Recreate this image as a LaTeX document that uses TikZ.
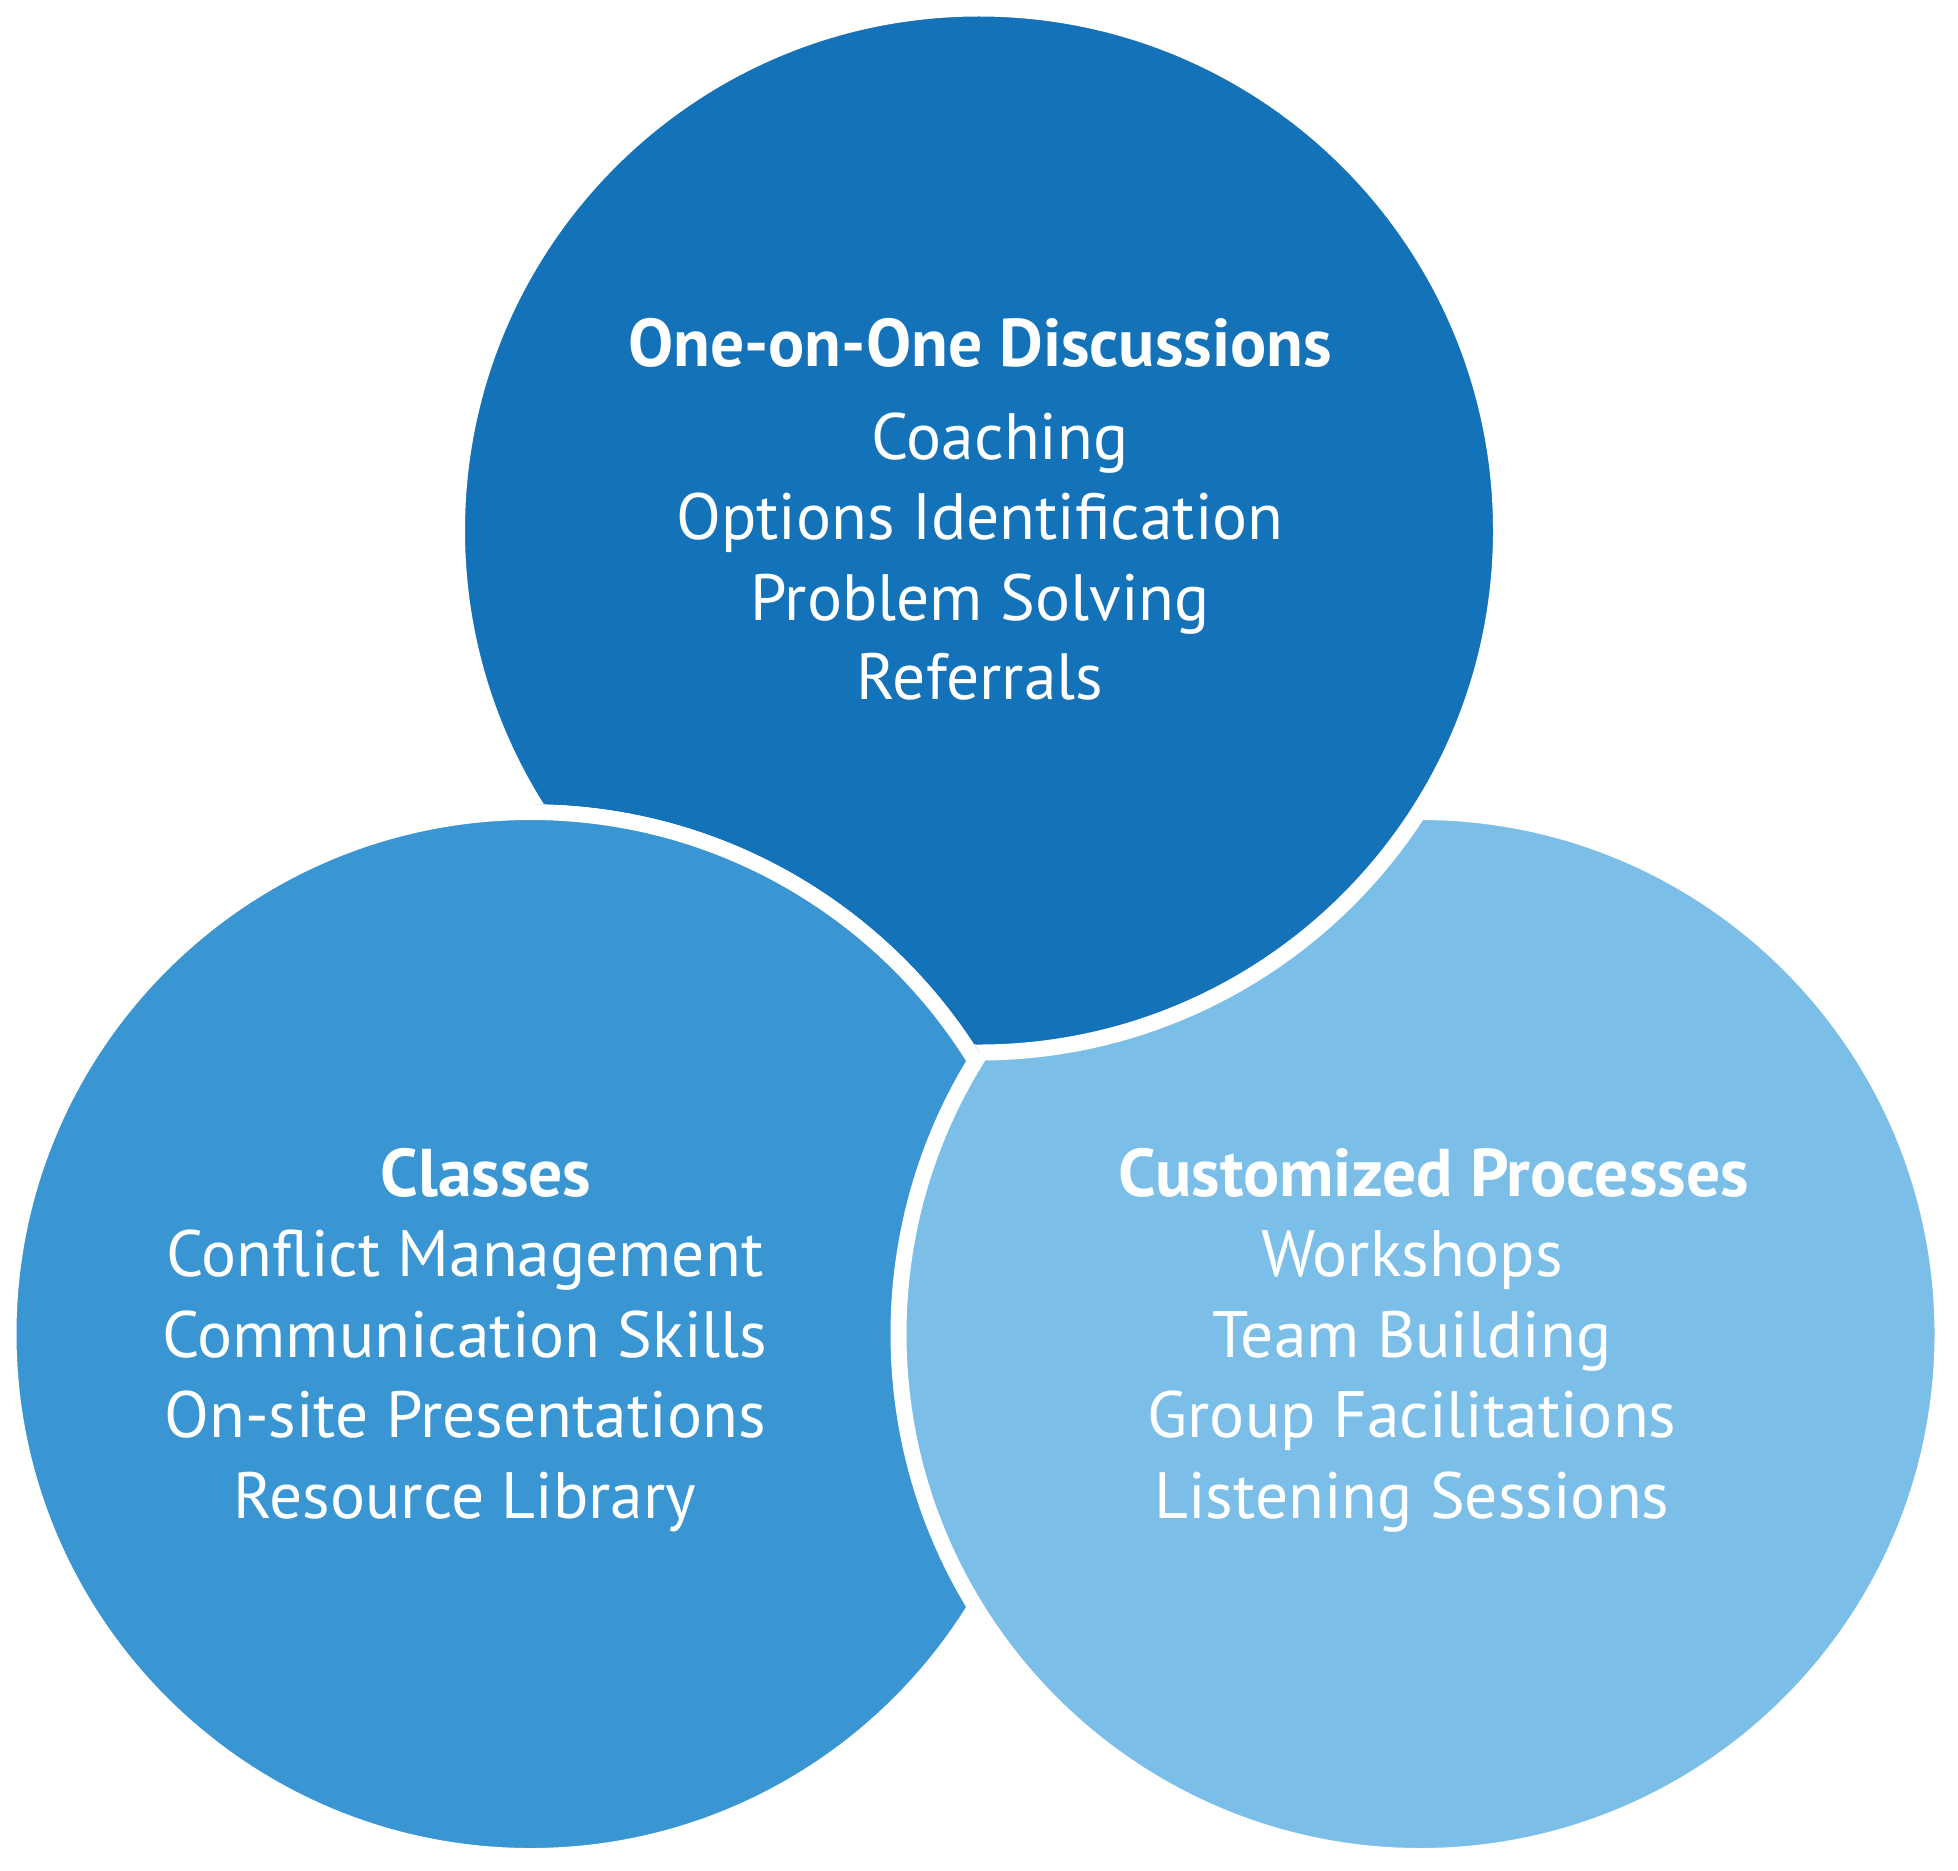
\documentclass[tikz,border=0pt]{standalone}
\usepackage{fontspec}
\setmainfont{PT Sans}
\definecolor{discBlue}{RGB}{19,114,184}
\definecolor{classBlue}{RGB}{58,150,210}
\definecolor{procBlue}{RGB}{123,191,233}

\begin{document}
\begin{tikzpicture}[x=1pt,y=-1pt,
  venn/.style={draw=white,line width=16pt},
  headtxt/.style={anchor=base,text=white,inner sep=0pt,font=\fontsize{67.5}{80}\selectfont\bfseries},
  itemtxt/.style={anchor=base,text=white,inner sep=0pt,font=\fontsize{65.5}{80}\selectfont}]
\useasboundingbox (0,0) rectangle (1958,1870);

%Shape: Circle top
\coordinate (cTop) at (979,530.5);
%Shape: Circle left
\coordinate (cLeft) at (530.5,1334);
%Shape: Circle right
\coordinate (cRight) at (1420.5,1334);

\draw [venn,fill=discBlue] (cTop) circle (522);
\draw [venn,fill=classBlue] (cLeft) circle (522);
\draw [venn,fill=procBlue] (cRight) circle (522);
%top circle again over the right one, but not over the left one
\begin{scope}[even odd rule]
\clip (0,0) rectangle (1958,1870) (cLeft) circle (530);
\draw [venn,fill=discBlue] (cTop) circle (522);
\end{scope}

% Text Node
\draw (980,366) node (discHead) [headtxt] {One-on-One Discussions};
% Text Node
\draw (1000,459.5) node (discA) [itemtxt] {Coaching};
% Text Node
\draw (980,539.5) node (discB) [itemtxt] {Options Identification};
% Text Node
\draw (980,620) node (discC) [itemtxt] {Problem Solving};
% Text Node
\draw (980,699) node (discD) [itemtxt] {Referrals};

% Text Node
\draw (486,1196) node (classHead) [headtxt] {Classes};
% Text Node
\draw (465,1276) node (classA) [itemtxt] {Conflict Management};
% Text Node
\draw (465,1357) node (classB) [itemtxt] {Communication Skills};
% Text Node
\draw (465,1437) node (classC) [itemtxt] {On-site Presentations};
% Text Node
\draw (465,1518) node (classD) [itemtxt] {Resource Library};

% Text Node
\draw (1433.5,1196) node (procHead) [headtxt] {Customized Processes};
% Text Node
\draw (1412,1276) node (procA) [itemtxt] {Workshops};
% Text Node
\draw (1412,1357) node (procB) [itemtxt] {Team Building};
% Text Node
\draw (1412,1437) node (procC) [itemtxt] {Group Facilitations};
% Text Node
\draw (1412,1518) node (procD) [itemtxt] {Listening Sessions};

\end{tikzpicture}
\end{document}
